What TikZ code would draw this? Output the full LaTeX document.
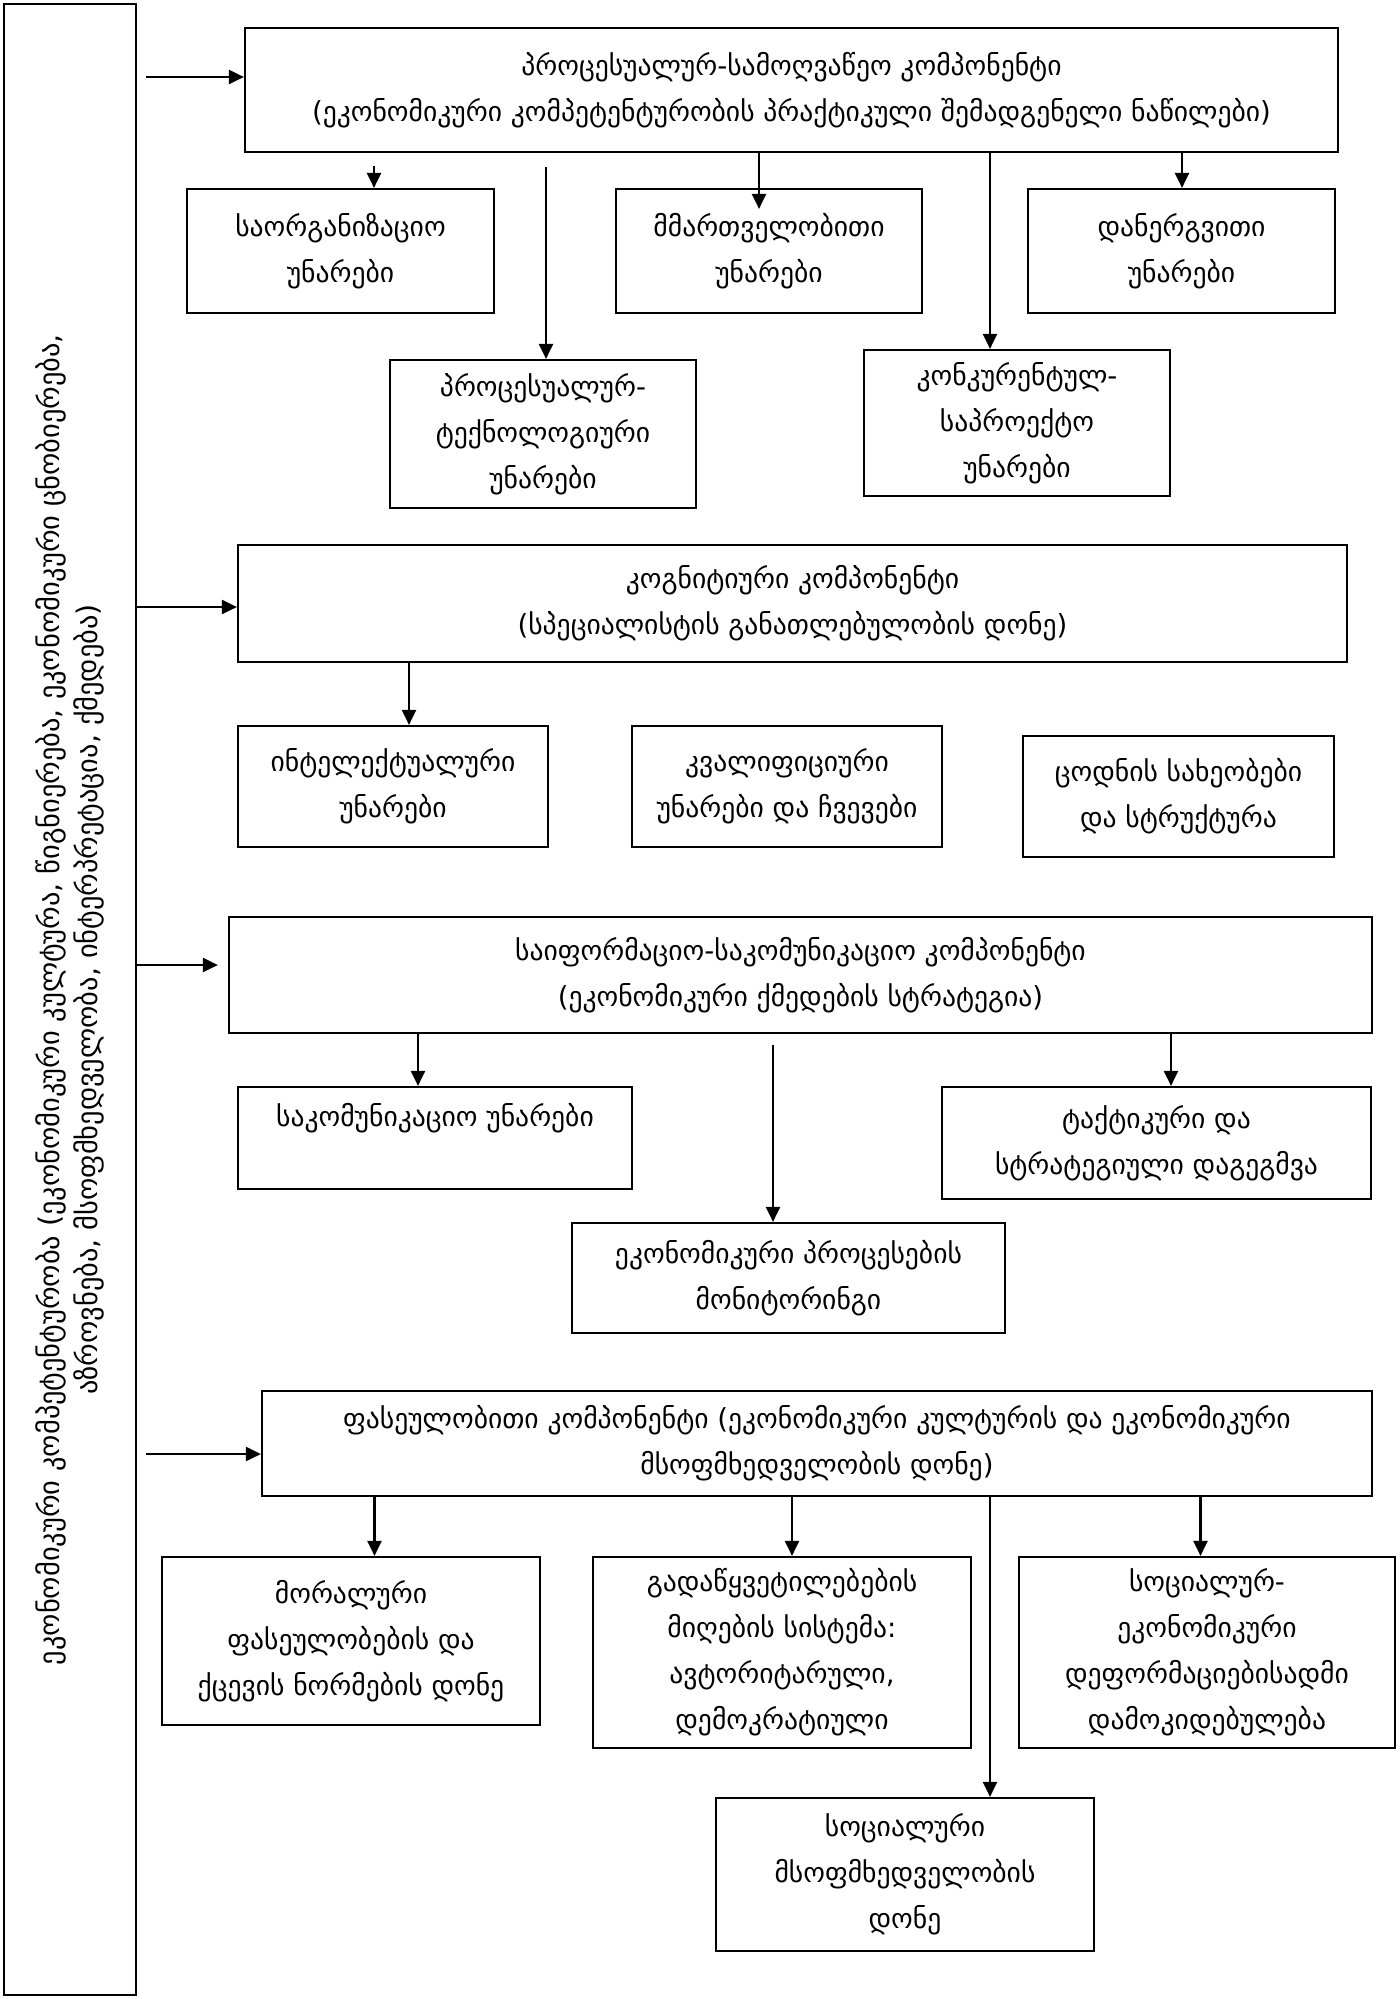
\documentclass[tikz,border=0pt]{standalone}
\usepackage{fontspec}
\newfontfamily\geofont{DejaVu Sans}
\usetikzlibrary{arrows.meta}

\begin{document}
\begin{tikzpicture}[
  x=0.5pt, y=-0.5pt,
  >={Triangle[length=7.5pt, width=7pt]},
  box/.style={draw, line width=1.1pt, align=center, inner sep=0pt,
    font=\geofont\fontsize{13.8}{23}\selectfont},
  arr/.style={->, line width=1.1pt}
]
\useasboundingbox (0,0) rectangle (1399,1999);

% Left column: economic competence
\node[box, minimum width=66pt, minimum height=995.5pt] (comp) at (70,999.5) {};
\node[rotate=90, align=center, font=\geofont\fontsize{14.2}{19}\selectfont] (comptext) at (comp.center)
  {ეკონომიკური კომპეტენტურობა (ეკონომიკური კულტურა, წიგნიერება, ეკონომიკური ცნობიერება,\\
   აზროვნება, მსოფმხედველობა, ინტერპრეტაცია, ქმედება)};

% Procedural-activity component
\node[box, minimum width=546.5pt, minimum height=62pt] (proc) at (791.5,90)
  {პროცესუალურ-სამოღვაწეო კომპონენტი\\(ეკონომიკური კომპეტენტურობის პრაქტიკული შემადგენელი ნაწილები)};
\node[box, minimum width=153.5pt, minimum height=62pt] (saorg) at (340.5,251) {საორგანიზაციო\\უნარები};
\node[box, minimum width=153pt, minimum height=62pt] (mmart) at (769,251) {მმართველობითი\\უნარები};
\node[box, minimum width=153.5pt, minimum height=62pt] (danerg) at (1181.5,251) {დანერგვითი\\უნარები};
\node[box, minimum width=153pt, minimum height=74pt] (proctech) at (543,434) {პროცესუალურ-\\ტექნოლოგიური\\უნარები};
\node[box, minimum width=153pt, minimum height=73pt] (konk) at (1017,423) {კონკურენტულ-\\საპროექტო\\უნარები};

% Cognitive component
\node[box, minimum width=554.5pt, minimum height=58.5pt] (kogn) at (792.5,603.5)
  {კოგნიტიური კომპონენტი\\(სპეციალისტის განათლებულობის დონე)};
\node[box, minimum width=155pt, minimum height=60.5pt] (intel) at (393,786.5) {ინტელექტუალური\\უნარები};
\node[box, minimum width=155pt, minimum height=60.5pt] (kval) at (787,786.5) {კვალიფიციური\\უნარები და ჩვევები};
\node[box, minimum width=155.5pt, minimum height=60.5pt] (codnis) at (1178.5,796.5) {ცოდნის სახეობები\\და სტრუქტურა};

% Information-communication component
\node[box, minimum width=571.5pt, minimum height=58pt] (info) at (800.5,975)
  {საიფორმაციო-საკომუნიკაციო კომპონენტი\\(ეკონომიკური ქმედების სტრატეგია)};
\node[box, minimum width=197pt, minimum height=51pt] (sakom) at (435,1138) {საკომუნიკაციო უნარები\\\mbox{}};
\node[box, minimum width=214.5pt, minimum height=56pt] (taktik) at (1156.5,1143) {ტაქტიკური და\\სტრატეგიული დაგეგმვა};
\node[box, minimum width=216.5pt, minimum height=55pt] (ekproc) at (788.5,1278) {ეკონომიკური პროცესების\\მონიტორინგი};

% Value component
\node[box, minimum width=555pt, minimum height=52.5pt] (fas) at (817,1443.5)
  {ფასეულობითი კომპონენტი (ეკონომიკური კულტურის და ეკონომიკური\\მსოფმხედველობის დონე)};
\node[box, minimum width=189pt, minimum height=84pt] (moral) at (351,1641) {მორალური\\ფასეულობების და\\ქცევის ნორმების დონე};
\node[box, minimum width=189pt, minimum height=95.5pt] (gadac) at (782,1652.5) {გადაწყვეტილებების\\მიღების სისტემა:\\ავტორიტარული,\\დემოკრატიული};
\node[box, minimum width=188pt, minimum height=95.5pt] (socek) at (1207,1652.5) {სოციალურ-\\ეკონომიკური\\დეფორმაციებისადმი\\დამოკიდებულება};
\node[box, minimum width=189pt, minimum height=76.5pt] (socmso) at (905,1874.5) {სოციალური\\მსოფმხედველობის\\დონე};

% Arrows from the left column
\coordinate (l1) at (146,77);
\coordinate (l2) at (136,607);
\coordinate (l3) at (136,965);
\coordinate (l4) at (146,1454);
\draw[arr] (l1) -- (l1 -| proc.west);
\draw[arr] (l2) -- (l2 -| kogn.west);
\draw[arr, shorten >=5pt] (l3) -- (l3 -| info.west);
\draw[arr] (l4) -- (l4 -| fas.west);

% Arrows down: procedural-activity
\coordinate (p1) at (374,166);
\coordinate (p2) at (546,167);
\coordinate (p3) at (759,0);
\coordinate (p4) at (990,0);
\coordinate (p5) at (1182,0);
\draw[arr] (p1) -- (p1 |- saorg.north);
\draw[arr] (p2) -- (p2 |- proctech.north);
\draw[arr] (proc.south -| p3) -- ([yshift=-10.5pt]mmart.north -| p3);
\draw[arr] (proc.south -| p4) -- (konk.north -| p4);
\draw[arr] (proc.south -| p5) -- (danerg.north -| p5);

% Arrows down: cognitive
\coordinate (k1) at (409,0);
\draw[arr] (kogn.south -| k1) -- (intel.north -| k1);

% Arrows down: information-communication
\coordinate (i1) at (418,0);
\coordinate (i2) at (773,1045);
\coordinate (i3) at (1171,0);
\draw[arr] (info.south -| i1) -- (sakom.north -| i1);
\draw[arr] (i2) -- (i2 |- ekproc.north);
\draw[arr] (info.south -| i3) -- (taktik.north -| i3);

% Arrows down: value
\coordinate (f1) at (374.5,0);
\coordinate (f2) at (792,0);
\coordinate (f3) at (990,0);
\coordinate (f4) at (1200.5,0);
\draw[arr] (fas.south -| f1) -- (moral.north -| f1);
\draw[arr] (fas.south -| f2) -- (gadac.north -| f2);
\draw[arr] (fas.south -| f3) -- (socmso.north -| f3);
\draw[arr] (fas.south -| f4) -- (socek.north -| f4);

\end{tikzpicture}
\end{document}
